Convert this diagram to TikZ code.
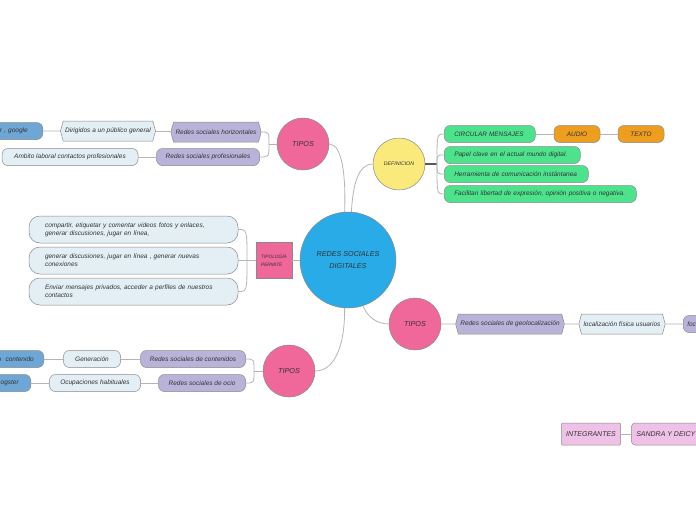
\documentclass[tikz,border=0pt]{standalone}
\usepackage{fontspec}
\setmainfont{Liberation Sans}
\usetikzlibrary{shapes.symbols,calc}
\definecolor{cblue}{HTML}{29ABE8}
\definecolor{cyel}{HTML}{FAEA7C}
\definecolor{cpink}{HTML}{F0679A}
\definecolor{cgreen}{HTML}{4DE38D}
\definecolor{corange}{HTML}{EE9E1F}
\definecolor{cpurple}{HTML}{B9B3DA}
\definecolor{clight}{HTML}{E3EFF5}
\definecolor{cmid}{HTML}{6EA7D6}
\definecolor{cinteg}{HTML}{EFC1E6}
\definecolor{txt}{HTML}{333333}
\definecolor{bord}{HTML}{8A8A8A}
\definecolor{lnk}{HTML}{B5B5B5}
\tikzset{
  every node/.style={font=\itshape\fontsize{6.5}{8}\selectfont, text=txt},
  circ/.style={circle, draw=bord, line width=0.5pt, inner sep=0pt},
  rbox/.style={draw=bord, line width=0.5pt, rounded corners=6pt, minimum height=17pt, inner sep=0pt},
  gbox/.style={rbox, fill=cgreen, anchor=west, align=left, inner xsep=10pt},
  hexbox/.style={signal, signal to=west and east, signal pointer angle=150, draw=bord, line width=0.5pt, minimum height=20pt, inner xsep=2pt, inner ysep=0pt},
  link/.style={draw=lnk, line width=0.8pt},
  tiposfont/.style={font=\itshape\fontsize{7.2}{8}\selectfont},
}
\begin{document}
\begin{tikzpicture}[x=1pt,y=-1pt]
\useasboundingbox[fill=white] (0,0) rectangle (696,520);

% central
\node[circ, fill=cblue, minimum size=96pt, align=center, font=\itshape\fontsize{7.2}{12}\selectfont] (center) at (348,260) {REDES SOCIALES\\DIGITALES};

% definicion
\node[circ, fill=cyel, minimum size=52pt, font=\itshape\fontsize{5.2}{6}\selectfont] (def) at (399,164) {DEFINICION};
\node[rbox, fill=cgreen, minimum width=91pt, anchor=west, text width=71pt, inner xsep=10pt, align=left, font=\itshape\fontsize{6.4}{7}\selectfont] (cmsg) at (444,134) {CIRCULAR MENSAJES};
\node[rbox, fill=corange, minimum width=46pt, font=\itshape\fontsize{6.4}{7}\selectfont] (audio) at (577,134) {AUDIO};
\node[rbox, fill=corange, minimum width=46pt, font=\itshape\fontsize{6.4}{7}\selectfont] (texto) at (641,134) {TEXTO};
\node[gbox, text width=116pt] (papel) at (444,155) {Papel clave en el actual mundo digital.};
\node[gbox, text width=124pt] (herr) at (444,174) {Herramienta de comunicación instántanea};
\node[gbox, text width=172pt] (facil) at (444,194) {Facilitan libertad de expresión, opinión positiva o negativa.};

\draw[draw=black!65, line width=1.4pt] (def.east) -- (437,164) coordinate (jd);
\foreach \b in {cmsg,papel,herr,facil}{
  \draw[link] (jd) .. controls (jd |- \b.west) .. (\b.west);
}
\draw[link] (cmsg) -- (audio);
\draw[link] (audio) -- (texto);

% tipos upper
\node[circ, fill=cpink, minimum size=52pt, tiposfont] (tiposa) at (303,144) {TIPOS};
\node[hexbox, fill=cpurple, minimum width=87pt] (rsh) at (216,132) {Redes sociales horizontales};
\node[rbox, fill=cpurple, minimum width=103pt] (rsp) at (208,157) {Redes sociales profesionales};
\node[hexbox, fill=clight, minimum width=95pt] (dir) at (108,131) {Dirigidos a un público general};
\node[rbox, fill=cmid, anchor=east, text width=50pt, align=right, inner xsep=15pt] (goo) at (43,131) {r , google};
\node[rbox, fill=clight, minimum width=136pt] (amb) at (70,157) {Ambito laboral contactos profesionales};
\draw[link] (tiposa.west) -- (269,144) coordinate (ja);
\foreach \b in {rsh,rsp}{
  \draw[link] (ja) .. controls (ja |- \b.east) .. (\b.east);
}
\draw[link] (rsh) -- (dir);
\draw[link] (dir) -- (goo);
\draw[link] (rsp) -- (amb);

% tipologia
\node[draw=bord, line width=0.5pt, fill=cpink, minimum size=36pt, inner sep=0pt, align=left, font=\itshape\fontsize{4.8}{8}\selectfont] (tipol) at (274,260) {TIPOLOGÍA\\PERMITE};
\node[rbox, fill=clight, rounded corners=11pt, minimum height=27pt, text width=177pt, inner xsep=16pt, align=left] (b1) at (133.5,229.5) {compartir, etiquetar y comentar videos fotos y enlaces,\\generar discusiones, jugar en línea,};
\node[rbox, fill=clight, rounded corners=11pt, minimum height=27pt, text width=177pt, inner xsep=16pt, align=left] (b2) at (133.5,260.5) {generar discusiones, jugar en línea , generar nuevas\\conexiones};
\node[rbox, fill=clight, rounded corners=11pt, minimum height=27pt, text width=177pt, inner xsep=16pt, align=left] (b3) at (133.5,291.5) {Enviar mensajes privados, acceder a perfiles de nuestros\\contactos};
\draw[link] (tipol.west) -- (247,260) coordinate (jt);
\foreach \b in {b1,b2,b3}{
  \draw[link] (jt) .. controls (jt |- \b.east) .. (\b.east);
}

% tipos lower
\node[circ, fill=cpink, minimum size=52pt, tiposfont] (tiposb) at (289,371) {TIPOS};
\node[rbox, fill=cpurple, minimum width=105pt] (rsc) at (193,359) {Redes sociales de contenidos};
\node[rbox, fill=cpurple, minimum width=87pt] (rso) at (202,383) {Redes sociales de ocio};
\node[rbox, fill=clight, minimum width=57pt] (gen) at (92,359) {Generación};
\node[rbox, fill=clight, minimum width=91pt] (ocu) at (95,383) {Ocupaciones habituales};
\node[rbox, fill=cmid, anchor=east, text width=50pt, align=right, inner xsep=10pt] (cont) at (44,359) {n\ \ contenido};
\node[rbox, fill=cmid, anchor=east, text width=50pt, align=right, inner xsep=12pt] (blog) at (31,383) {ogster};
\draw[link] (tiposb.west) -- (254,371) coordinate (jb);
\foreach \b in {rsc,rso}{
  \draw[link] (jb) .. controls (jb |- \b.east) .. (\b.east);
}
\draw[link] (rsc) -- (gen);
\draw[link] (gen) -- (cont);
\draw[link] (rso) -- (ocu);
\draw[link] (ocu) -- (blog);

% tipos right
\node[circ, fill=cpink, minimum size=52pt, tiposfont] (tiposc) at (415,324) {TIPOS};
\node[hexbox, fill=cpurple, minimum width=103pt] (rsg) at (510,324) {Redes sociales de geolocalización};
\node[hexbox, fill=clight, minimum width=85pt] (loc) at (622,324) {localización física usuarios};
\node[rbox, fill=cpurple, anchor=west, text width=40pt, align=left, inner xsep=4pt] (foc) at (683,324) {foc};
\draw[link] (tiposc) -- (rsg);
\draw[link] (rsg) -- (loc);
\draw[link] (loc) -- (foc);

% center connectors
\draw[link] (center.94) .. controls (346,175) and (342,144) .. (tiposa.east);
\draw[link] (center.86) .. controls (353,185) and (358,164) .. (def.west);
\draw[link] (center.west) -- (tipol.east);
\draw[link] (center.266) .. controls (345,345) and (335,371) .. (tiposb.east);
\draw[link] (center.-72) .. controls (368,318) and (378,324) .. (tiposc.west);

% integrantes
\node[draw=bord, line width=0.5pt, fill=cinteg, minimum width=59pt, minimum height=22pt, inner sep=0pt, rounded corners=1pt, font=\itshape\fontsize{7}{8}\selectfont] (integ) at (591,434) {INTEGRANTES};
\node[draw=bord, line width=0.5pt, fill=cinteg, anchor=west, minimum height=22pt, inner xsep=5pt, rounded corners=4pt, font=\itshape\fontsize{7}{8}\selectfont] (sandra) at (631,434) {SANDRA Y DEICY\hspace{12pt}};
\draw[link] (integ) -- (sandra);
\end{tikzpicture}
\end{document}
